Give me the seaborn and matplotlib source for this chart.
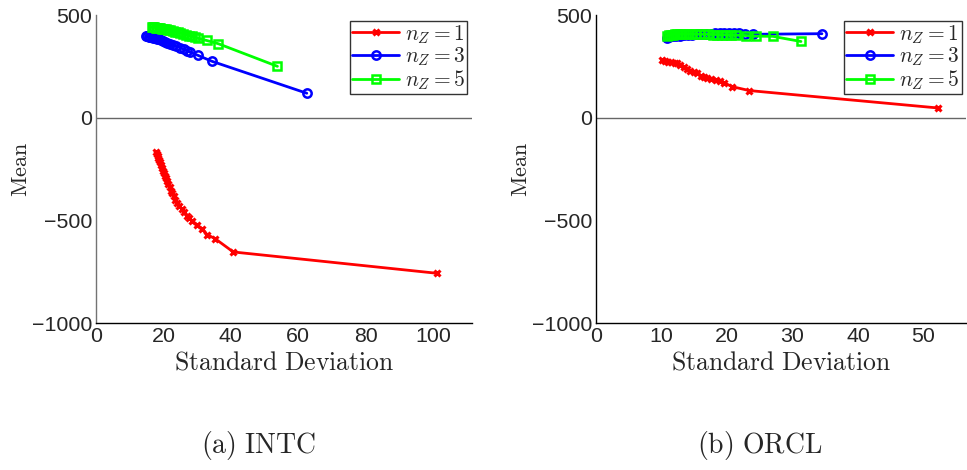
import matplotlib
matplotlib.use("Agg")
import matplotlib.pyplot as plt
import seaborn as sns

sns.set_style("white")
plt.rcParams['font.family'] = ['Liberation Sans', 'DejaVu Sans']
plt.rcParams['mathtext.fontset'] = 'cm'

# ---- INTC data ----
intc_n1_x = [17.9, 18.1, 18.3, 18.5, 18.7, 18.9, 19.2, 19.5, 19.8, 20.1, 20.4, 20.7, 21.0, 21.4, 21.8, 22.2,
             22.6, 23.0, 23.5, 24.0, 24.6, 25.4, 26.1, 26.9, 27.6, 28.4, 29.9, 31.4, 33.0, 35.3, 40.7, 101.2]
intc_n1_y = [-165, -178, -188, -198, -207, -216, -230, -244, -258, -271, -284, -296, -308, -324, -340, -355,
             -369, -382, -399, -415, -430, -444, -461, -477, -489, -501, -525, -541, -570, -589, -654, -758]
intc_n3_x = [14.8, 15.2, 15.6, 16.0, 16.5, 17.0, 17.5, 18.0, 18.6, 19.2, 19.8, 20.5, 21.2, 22.0, 22.9, 23.8,
             24.9, 26.0, 27.0, 27.9, 30.3, 34.3, 62.5]
intc_n3_y = [398, 396, 395, 394, 392, 390, 388, 385, 382, 378, 374, 370, 366, 361, 356, 349,
             341, 334, 327, 319, 303, 275, 119]
intc_n5_x = [16.5, 16.9, 17.3, 17.7, 18.1, 18.6, 19.1, 19.6, 20.1, 20.7, 21.3, 22.0, 22.7, 23.4, 24.2, 25.0,
             25.9, 26.8, 27.7, 28.6, 29.5, 30.3, 32.8, 36.3, 53.8]
intc_n5_y = [441, 440, 440, 439, 438, 437, 436, 434, 432, 430, 428, 425, 422, 419, 416, 412,
             408, 404, 400, 396, 392, 386, 376, 360, 250]

# ---- ORCL data ----
orcl_n1_x = [10.1, 10.5, 11.0, 11.5, 12.0, 12.4, 12.9, 13.4, 13.9, 14.4, 14.9, 15.4, 16.0, 16.5, 17.0, 17.6,
             18.3, 18.9, 19.5, 20.8, 23.4, 52.3]
orcl_n1_y = [279, 275, 272, 270, 268, 264, 256, 245, 235, 228, 222, 216, 205, 198, 192, 188,
             184, 178, 171, 151, 132, 47]
orcl_n3_x = [10.8, 11.2, 11.7, 12.2, 12.8, 13.4, 14.0, 14.7, 15.4, 16.1, 16.8, 17.5, 18.2, 18.9, 19.6, 20.3,
             21.0, 21.8, 22.7, 23.9, 34.5]
orcl_n3_y = [390, 393, 396, 398, 400, 402, 404, 405, 406, 407, 408, 409, 410, 411, 412, 413,
             412, 410, 408, 406, 409]
orcl_n5_x = [10.8, 11.1, 11.4, 11.7, 12.0, 12.4, 12.8, 13.2, 13.7, 14.2, 14.7, 15.3, 15.9, 16.5, 17.1, 17.8,
             18.5, 19.2, 19.9, 20.6, 21.4, 22.9, 24.4, 27.0, 31.3]
orcl_n5_y = [398, 401, 403, 405, 406, 407, 408, 408, 408, 408, 408, 407, 407, 406, 406, 405,
             405, 404, 404, 403, 402, 400, 397, 396, 371]

labels = [r"$n_Z = 1$", r"$n_Z = 3$", r"$n_Z = 5$"]
colors = ["#ff0000", "#0000ff", "#00ff00"]
markers = ["x", "o", "s"]
xticks_intc = [0, 20, 40, 60, 80, 100]
xticks_orcl = [0, 10, 20, 30, 40, 50]
yticks = [-1000, -500, 0, 500]
captions = [r"$\mathrm{(a)\ INTC}$", r"$\mathrm{(b)\ ORCL}$"]

W, H = 967, 470
fig = plt.figure(figsize=(W / 100, H / 100), dpi=100)
ax1 = fig.add_axes([96 / W, 1 - 323 / H, (472 - 96) / W, (323 - 15) / H])
ax2 = fig.add_axes([596 / W, 1 - 323 / H, (966 - 596) / W, (323 - 15) / H])

panels = [
    (ax1, [(intc_n1_x, intc_n1_y), (intc_n3_x, intc_n3_y), (intc_n5_x, intc_n5_y)], (0, 111.5), xticks_intc, '0.45'),
    (ax2, [(orcl_n1_x, orcl_n1_y), (orcl_n3_x, orcl_n3_y), (orcl_n5_x, orcl_n5_y)], (0, 56.5), xticks_orcl, 'black'),
]

for i, (ax, series, xlim, xt, lcol) in enumerate(panels):
    ax.axhline(0, color='0.4', lw=1.0, zorder=1)
    for (xs, ys), lab, c, m in zip(series, labels, colors, markers):
        if m == "x":
            sns.lineplot(x=xs, y=ys, sort=False, estimator=None, ax=ax, color=c, lw=2,
                         marker=m, markersize=5, markeredgewidth=2.2, markeredgecolor=c,
                         label=lab, zorder=3)
        else:
            sns.lineplot(x=xs, y=ys, sort=False, estimator=None, ax=ax, color=c, lw=2,
                         marker=m, markersize=6 if m == "o" else 5.5, markeredgewidth=1.8,
                         markerfacecolor='none', markeredgecolor=c, label=lab, zorder=3)
    ax.set_xlim(*xlim)
    ax.set_ylim(-1000, 500)
    ax.set_xticks(xt)
    ax.set_yticks(yticks)
    ax.set_xticklabels([str(v) for v in xt])
    ax.set_yticklabels([str(v).replace('-', '\u2212') for v in yticks])
    ax.tick_params(axis='both', labelsize=15.4, width=0.8, color='0.3')
    ax.tick_params(axis='x', direction='in', length=3, pad=3)
    ax.tick_params(axis='y', direction='out', length=2, pad=0.5)
    for s in ['top', 'right']:
        ax.spines[s].set_visible(False)
    ax.spines['left'].set_color(lcol)
    ax.spines['bottom'].set_color('black')
    ax.spines['left'].set_linewidth(1.0)
    ax.spines['bottom'].set_linewidth(1.0)
    ax.set_xlabel(r"$\mathrm{Standard\ Deviation}$", fontsize=18.5, labelpad=3)
    ax.set_ylabel(r"$\mathrm{Mean}$", fontsize=16, labelpad=0)
    leg = ax.legend(loc='upper right', bbox_to_anchor=(0.988, 0.981), fontsize=15.5, frameon=True,
                    fancybox=False, edgecolor='black', handlelength=2.2, handletextpad=0.25,
                    borderpad=0.1, labelspacing=0.0, borderaxespad=0.0)
    leg.get_frame().set_linewidth(1.0)

fig.text(258 / W, 1 - 446 / H, captions[0], fontsize=20, ha='center', va='center')
fig.text(760 / W, 1 - 446 / H, captions[1], fontsize=20, ha='center', va='center')

fig.savefig("out.png", dpi=100)
